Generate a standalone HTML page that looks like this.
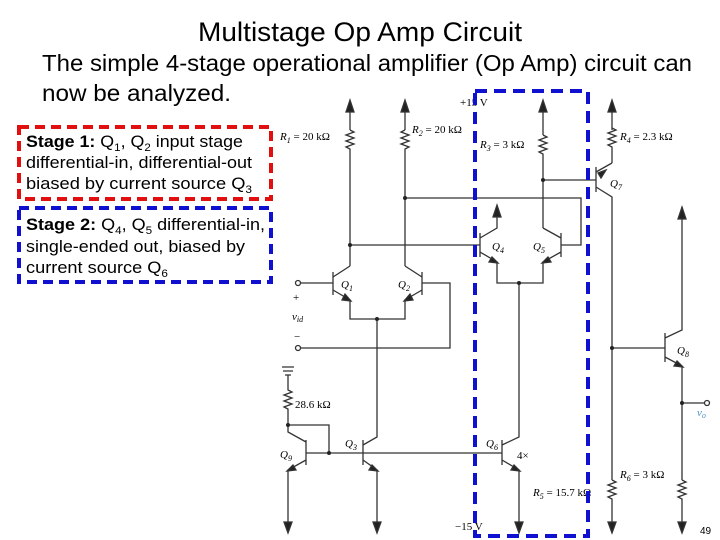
<!DOCTYPE html>
<html><head><meta charset="utf-8"><style>
body{margin:0;background:#fff;}
svg{display:block;}
.t{font-family:"Liberation Sans",sans-serif;}
.s{font-family:"Liberation Serif",serif;font-style:italic;font-size:11px;}
.n{font-family:"Liberation Serif",serif;font-size:11px;}
</style></head><body>
<svg width="720" height="540" viewBox="0 0 720 540" xmlns="http://www.w3.org/2000/svg">
<text class="t" x="360" y="41" font-size="27" text-anchor="middle" textLength="324" lengthAdjust="spacingAndGlyphs">Multistage Op Amp Circuit</text>
<text class="t" x="42" y="71" font-size="23" textLength="650" lengthAdjust="spacingAndGlyphs">The simple 4-stage operational amplifier (Op Amp) circuit can</text>
<text class="t" x="42" y="101" font-size="23" textLength="189" lengthAdjust="spacingAndGlyphs">now be analyzed.</text>

<g stroke="#333" stroke-width="1.3" fill="none">
<path d="M350,103 V130 M405,103 V130 M543,103 V135 M612,103 V130"/>
<path d="M346,112 L350,100 L354,112Z M401,112 L405,100 L409,112Z M539,112 L543,100 L547,112Z M608,112 L612,100 L616,112Z" fill="#222"/>
<path d="M350,130 l4,2 -8,3 8,3 -8,3 8,3 -8,3 4,2 V266"/>
<path d="M405,130 l-4,2 8,3 -8,3 8,3 -8,3 8,3 -4,2 V266"/>
<path d="M543,135 l4,2 -8,3 8,3 -8,3 8,3 -8,3 4,2 V228"/>
<path d="M612,128 l4,2 -8,3 8,3 -8,3 8,3 -8,3 4,2 V163"/>
<path d="M298,283 H333 M333,272 V295 M333,277 L350,266 M333,290 L350,300 V319 H405 V300 L422,290 M422,272 V295 M422,277 L405,266"/>
<path d="M422,283 H450 V348 H298"/>
<circle cx="298" cy="283" r="2.5" fill="#fff"/><circle cx="298" cy="348" r="2.5" fill="#fff"/>
<path d="M350,245 H480 M480,233 V257 M480,238 L497,228 V207 M480,252 L497,262 V283 H543 V262 L561,252 M561,233 V257 M561,238 L543,228"/>
<path d="M405,198 H581 V245 H561"/>
<path d="M543,180 H596 M596,167 V192 M596,172 L612,163 M596,187 L612,197 V480"/>
<path d="M493,217 L497,205 L501,217Z" fill="#222"/>
<path d="M377,319 V437 L363,445 M363,440 V465 M363,460 L377,470 V528"/>
<path d="M519,283 V437 L502,445 M502,440 V465 M502,460 L519,470 V528"/>
<path d="M288,385 V390 l4,2 -8,3 8,3 -8,3 8,3 -8,3 4,2 V432 L306,442 M306,440 V465 M306,460 L288,470 V528"/>
<path d="M288,425 H329 V453 M306,453 H363 M363,453 H502"/>
<path d="M282,367 H294 M283,371 H293 M285,375 H291 M288,375 V385"/>
<path d="M612,348 H665 M665,333 V362 M665,338 L682,330 V207 M665,357 L682,366 V480 M682,403 H705"/>
<path d="M678,219 L682,207 L686,219Z" fill="#222"/>
<path d="M612,480 l4,2 -8,3 8,3 -8,3 8,3 -8,3 4,2 V528"/>
<path d="M682,480 l4,2 -8,3 8,3 -8,3 8,3 -8,3 4,2 V528"/>
<circle cx="707" cy="403" r="2.5" fill="#fff"/>
<path d="M284,522 L288,533 L292,522Z M373,522 L377,533 L381,522Z M515,522 L519,533 L523,522Z M608,522 L612,533 L616,522Z M678,522 L682,533 L686,522Z" fill="#222"/>
<path d="M345,294 L351,301 L342,300Z M410,294 L404,301 L413,300Z M492,257 L498,263 L489,262Z M548,257 L542,263 L551,262Z M372,465 L378,471 L369,470Z M514,465 L520,471 L511,470Z M293,465 L287,471 L296,470Z M677,361 L683,367 L674,366Z M606,170 L598,173 L601,178Z" fill="#222"/>
</g>
<g fill="#222">
<circle cx="350" cy="245" r="2"/><circle cx="405" cy="198" r="2"/><circle cx="543" cy="180" r="2"/>
<circle cx="519" cy="283" r="2"/><circle cx="377" cy="319" r="2"/><circle cx="288" cy="425" r="2"/>
<circle cx="329" cy="453" r="2"/><circle cx="612" cy="348" r="2"/><circle cx="682" cy="403" r="2"/>
</g>
<g>
<text class="s" x="280" y="140">R<tspan font-size="8" dy="3">1</tspan><tspan dy="-3" font-style="normal"> = 20 kΩ</tspan></text>
<text class="s" x="412" y="133">R<tspan font-size="8" dy="3">2</tspan><tspan dy="-3" font-style="normal"> = 20 kΩ</tspan></text>
<text class="s" x="480" y="148">R<tspan font-size="8" dy="3">3</tspan><tspan dy="-3" font-style="normal"> = 3 kΩ</tspan></text>
<text class="s" x="620" y="140">R<tspan font-size="8" dy="3">4</tspan><tspan dy="-3" font-style="normal"> = 2.3 kΩ</tspan></text>
<text class="n" x="460" y="106">+15 V</text>
<text class="n" x="455" y="530">−15 V</text>
<text class="n" x="295" y="408">28.6 kΩ</text>
<text class="s" x="533" y="496">R<tspan font-size="8" dy="3">5</tspan><tspan dy="-3" font-style="normal"> = 15.7 kΩ</tspan></text>
<text class="s" x="620" y="478">R<tspan font-size="8" dy="3">6</tspan><tspan dy="-3" font-style="normal"> = 3 kΩ</tspan></text>
<text class="s" x="341" y="288">Q<tspan font-size="8" dy="3">1</tspan></text>
<text class="s" x="398" y="288">Q<tspan font-size="8" dy="3">2</tspan></text>
<text class="s" x="345" y="447">Q<tspan font-size="8" dy="3">3</tspan></text>
<text class="s" x="492" y="250">Q<tspan font-size="8" dy="3">4</tspan></text>
<text class="s" x="533" y="250">Q<tspan font-size="8" dy="3">5</tspan></text>
<text class="s" x="486" y="447">Q<tspan font-size="8" dy="3">6</tspan></text>
<text class="s" x="610" y="187">Q<tspan font-size="8" dy="3">7</tspan></text>
<text class="s" x="677" y="354">Q<tspan font-size="8" dy="3">8</tspan></text>
<text class="s" x="280" y="458">Q<tspan font-size="8" dy="3">9</tspan></text>
<text class="n" x="517" y="459">4×</text>
<text class="n" x="293" y="301">+</text>
<text class="s" x="292" y="320">v<tspan font-size="8" dy="2">id</tspan></text>
<text class="n" x="294" y="340">−</text>
<text class="s" x="697" y="416" fill="#4a90c0">v<tspan font-size="8" dy="2">o</tspan></text>
<text class="t" x="700" y="534" font-size="10">49</text>
</g>
<rect x="19" y="127" width="252" height="72" fill="none" stroke="#e01010" stroke-width="4" stroke-dasharray="10,6"/>
<rect x="19" y="208" width="252" height="74" fill="none" stroke="#1010d0" stroke-width="4" stroke-dasharray="10,6"/>
<rect x="475" y="91" width="113" height="445" fill="none" stroke="#1010d0" stroke-width="4" stroke-dasharray="12,7"/>
<text class="t" x="26" y="147" font-size="17" textLength="217" lengthAdjust="spacingAndGlyphs"><tspan font-weight="bold">Stage 1:</tspan> Q<tspan font-size="11" dy="4">1</tspan><tspan dy="-4">, Q</tspan><tspan font-size="11" dy="4">2</tspan><tspan dy="-4"> input stage</tspan></text>
<text class="t" x="26" y="168" font-size="17" textLength="226" lengthAdjust="spacingAndGlyphs">differential-in, differential-out</text>
<text class="t" x="26" y="189" font-size="17" textLength="226" lengthAdjust="spacingAndGlyphs">biased by current source Q<tspan font-size="11" dy="4">3</tspan></text>
<text class="t" x="26" y="230" font-size="17" textLength="239" lengthAdjust="spacingAndGlyphs"><tspan font-weight="bold">Stage 2:</tspan> Q<tspan font-size="11" dy="4">4</tspan><tspan dy="-4">, Q</tspan><tspan font-size="11" dy="4">5</tspan><tspan dy="-4"> differential-in,</tspan></text>
<text class="t" x="26" y="252" font-size="17" textLength="219" lengthAdjust="spacingAndGlyphs">single-ended out, biased by</text>
<text class="t" x="26" y="273" font-size="17" textLength="142" lengthAdjust="spacingAndGlyphs">current source Q<tspan font-size="11" dy="4">6</tspan></text>
</svg>
</body></html>
